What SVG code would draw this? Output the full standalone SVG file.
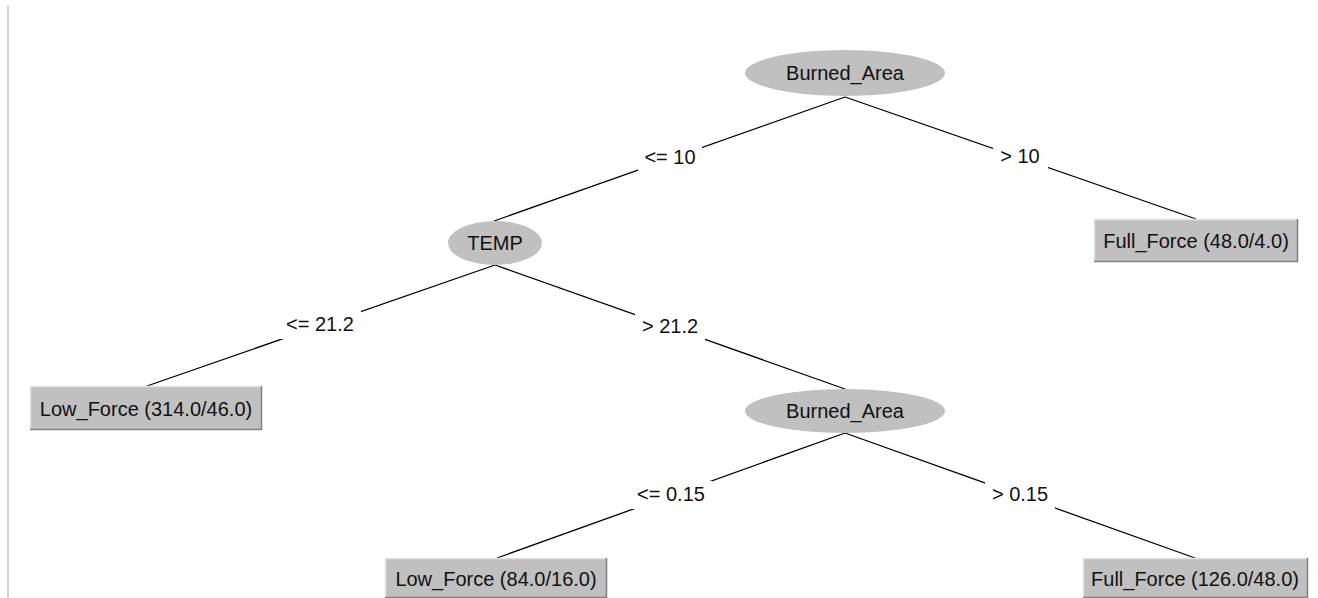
<svg xmlns="http://www.w3.org/2000/svg" width="1318" height="598" viewBox="0 0 1318 598">
  <style>
    .edge { stroke: #000; stroke-width: 1.3; fill: none; }
    .lblbg { fill: #fff; }
    .lbl { font-family: "Liberation Sans", Arial, sans-serif; font-size: 20px; fill: #111; text-anchor: middle; }
    .split { fill: #c0c0c0; }
    .leaf { fill: #c0c0c0; }
    .hi { stroke: #e2e2e2; stroke-width: 1.5; fill: none; }
    .lo { stroke: #808080; stroke-width: 1.5; fill: none; }
    .txt { font-family: "Liberation Sans", Arial, sans-serif; font-size: 20px; fill: #111; text-anchor: middle; }
  </style>
  <rect width="1318" height="598" fill="#fff"/>
  <!-- left panel border -->
  <line x1="8" y1="5" x2="8" y2="598" stroke="#d4d4d4" stroke-width="2"/>

  <g id="connectors">
    <line class="edge" x1="845" y1="97" x2="494" y2="221"/>
    <line class="edge" x1="845" y1="97" x2="1196" y2="219"/>
    <line class="edge" x1="495" y1="265" x2="147" y2="386"/>
    <line class="edge" x1="495" y1="265" x2="845" y2="389"/>
    <line class="edge" x1="845" y1="433" x2="497" y2="558"/>
    <line class="edge" x1="845" y1="433" x2="1195" y2="558"/>
    <!-- edge labels -->
    <rect class="lblbg" x="638" y="144" width="64" height="28"/>
    <text class="lbl" x="670" y="164">&lt;= 10</text>
    <rect class="lblbg" x="993" y="143" width="55" height="28"/>
    <text class="lbl" x="1020" y="163">&gt; 10</text>
    <rect class="lblbg" x="279" y="311" width="82" height="28"/>
    <text class="lbl" x="320" y="331">&lt;= 21.2</text>
    <rect class="lblbg" x="635" y="313" width="70" height="28"/>
    <text class="lbl" x="670" y="333">&gt; 21.2</text>
    <rect class="lblbg" x="630" y="481" width="82" height="28"/>
    <text class="lbl" x="671" y="501">&lt;= 0.15</text>
    <rect class="lblbg" x="985" y="481" width="70" height="28"/>
    <text class="lbl" x="1020" y="501">&gt; 0.15</text>
  </g>

  <g id="n-root">
    <ellipse class="split" cx="845" cy="73" rx="100" ry="23"/>
    <text class="txt" x="845" y="80">Burned_Area</text>
  </g>
  <g id="n-temp">
    <ellipse class="split" cx="495" cy="243" rx="47" ry="22"/>
    <text class="txt" x="495" y="250">TEMP</text>
  </g>
  <g id="n-full-48">
    <rect class="leaf" x="1094" y="219" width="204" height="43"/>
    <polyline class="hi" points="1094.5,262 1094.5,219.5 1298,219.5"/>
    <polyline class="lo" points="1297.5,219 1297.5,261.5 1094,261.5"/>
    <text class="txt" x="1196" y="248">Full_Force (48.0/4.0)</text>
  </g>
  <g id="n-low-314">
    <rect class="leaf" x="30" y="386" width="232" height="44"/>
    <polyline class="hi" points="30.5,430 30.5,386.5 262,386.5"/>
    <polyline class="lo" points="261.5,386 261.5,429.5 30,429.5"/>
    <text class="txt" x="146" y="416">Low_Force (314.0/46.0)</text>
  </g>
  <g id="n-burned-2">
    <ellipse class="split" cx="845" cy="411" rx="100" ry="22"/>
    <text class="txt" x="845" y="418">Burned_Area</text>
  </g>
  <g id="n-low-84">
    <rect class="leaf" x="385" y="558" width="222" height="42"/>
    <polyline class="hi" points="385.5,600 385.5,558.5 607,558.5"/>
    <polyline class="lo" points="606.5,558 606.5,597.5 385,597.5"/>
    <text class="txt" x="496" y="586">Low_Force (84.0/16.0)</text>
  </g>
  <g id="n-full-126">
    <rect class="leaf" x="1083" y="558" width="225" height="42"/>
    <polyline class="hi" points="1083.5,600 1083.5,558.5 1308,558.5"/>
    <polyline class="lo" points="1307.5,558 1307.5,597.5 1083,597.5"/>
    <text class="txt" x="1195" y="586">Full_Force (126.0/48.0)</text>
  </g>
</svg>
